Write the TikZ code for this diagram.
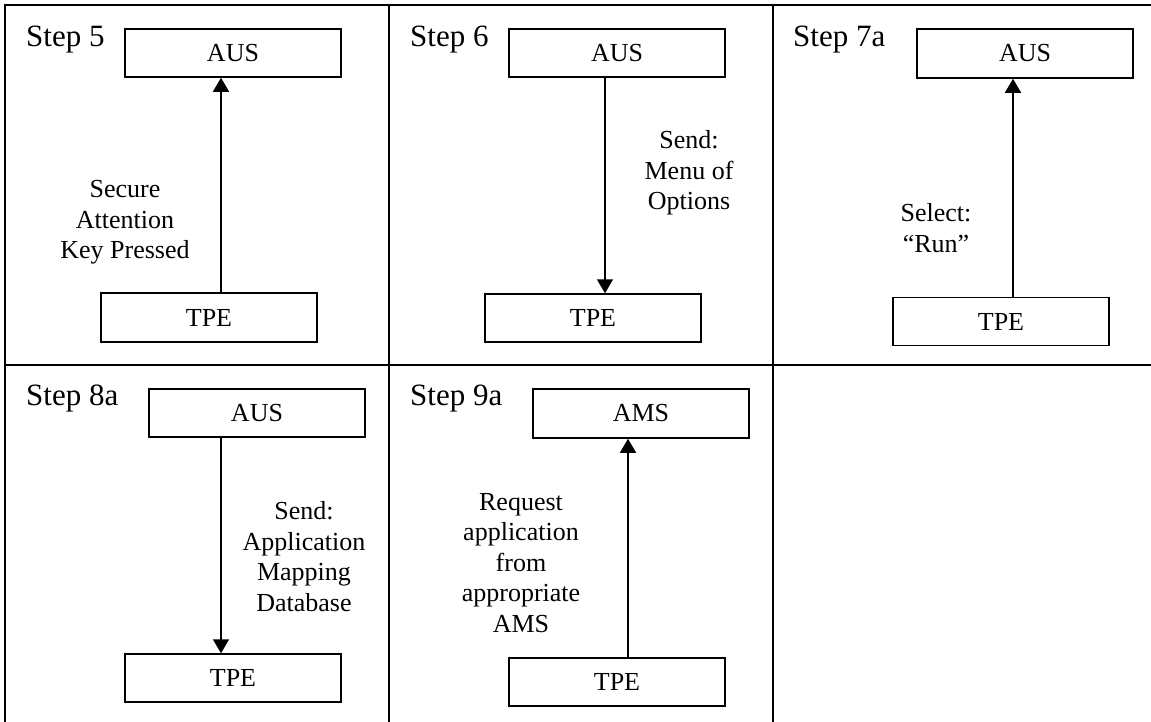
\documentclass[tikz,border=0pt]{standalone}
\usepackage{fontspec}
\setmainfont{Liberation Serif}
\usetikzlibrary{arrows.meta,calc}
\begin{document}
\begin{tikzpicture}[x=1pt,y=-1pt,
  grid/.style={line width=2pt},
  sbox/.style={draw,line width=1.5pt,minimum width=216pt,minimum height=48pt,inner sep=0pt,font=\fontsize{26}{30}\selectfont},
  steplbl/.style={anchor=base west,inner sep=0pt,font=\fontsize{31}{36}\selectfont},
  msg/.style={align=center,inner sep=0pt,font=\fontsize{26}{30.5}\selectfont},
  arr/.style={line width=1.5pt,-{Triangle[width=16pt,length=14pt]}}]
\path[use as bounding box] (0,0) rectangle (1151,721);
\clip (0,0) rectangle (1151,721);
% table grid
\draw[grid] (1160,5) -- (5,5) -- (5,730);
\draw[grid] (5,365) -- (1160,365);
\draw[grid] (389,5) -- (389,730);
\draw[grid] (773,5) -- (773,730);
% step labels
\node[steplbl] (s5) at (26,46) {Step 5};
\node[steplbl] (s6) at (410,46) {Step 6};
\node[steplbl] (s7) at (793,46) {Step 7a};
\node[steplbl] (s8) at (26,405) {Step 8a};
\node[steplbl] (s9) at (410,405) {Step 9a};
% boxes
\node[sbox] (a1) at (233,53) {AUS};
\node[sbox,minimum height=49pt] (t1) at (209,317.5) {TPE};
\node[sbox] (a2) at (617,53) {AUS};
\node[sbox] (t2) at (593,318) {TPE};
\node[sbox,minimum height=49pt] (a3) at (1025,53.5) {AUS};
\node[sbox] (t3) at (1001,321.5) {TPE};
\node[sbox] (a4) at (257,413) {AUS};
\node[sbox] (t4) at (233,678) {TPE};
\node[sbox,minimum height=49pt] (a5) at (641,413.5) {AMS};
\node[sbox] (t5) at (617,682) {TPE};
% arrow x positions
\coordinate (x1) at (221,0);
\coordinate (x2) at (605,0);
\coordinate (x3) at (1013,0);
\coordinate (x4) at (221,0);
\coordinate (x5) at (628,0);
% arrows
\draw[arr] (t1.north -| x1) -- (a1.south -| x1);
\draw[arr] (a2.south -| x2) -- (t2.north -| x2);
\draw[arr] (t3.north -| x3) -- (a3.south -| x3);
\draw[arr] (a4.south -| x4) -- (t4.north -| x4);
\draw[arr] (t5.north -| x5) -- (a5.south -| x5);
% messages
\node[msg] (m1) at (125,222.5) {Secure\\Attention\\Key Pressed};
\node[msg] (m2) at (689,173) {Send:\\Menu of\\Options};
\node[msg] (m3) at (936,228) {Select:\\“Run”};
\node[msg] (m4) at (304,556.7) {Send:\\Application\\Mapping\\Database};
\node[msg] (m5) at (521,562.8) {Request\\application\\from\\appropriate\\AMS};
\end{tikzpicture}
\end{document}
